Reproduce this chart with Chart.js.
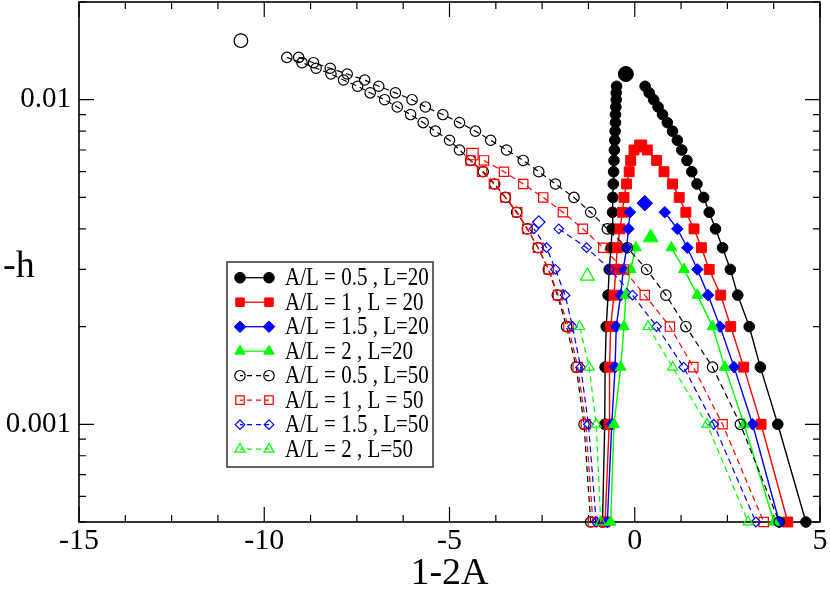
<!DOCTYPE html>
<html>
<head>
<meta charset="utf-8">
<title>-h vs 1-2A</title>
<script src="https://cdn.jsdelivr.net/npm/chart.js@4.4.1/dist/chart.umd.min.js"></script>
<style>
    html, body { margin: 0; padding: 0; background: #fff; }
    #wrap { width: 830px; height: 589px; }
</style>
</head>
<body>
<div id="wrap"><canvas id="hChart" width="830" height="589"></canvas></div>
<script>
// ---- axis ticks ----
const xMajorTicks = [-15, -10, -5, 0, 5];
const xMinorStep = 1.25;
const yLabelTicks = [0.001, 0.01];

// ---- A/L = 0.5 , L=20 ----
const blk20LeftH = [0.0005, 0.001, 0.0015, 0.002, 0.0025, 0.003, 0.0035, 0.004, 0.0045, 0.005, 0.0055,
    0.006, 0.0065, 0.007, 0.0075, 0.008, 0.0085, 0.009, 0.0095, 0.01, 0.0105, 0.011];
const blk20LeftX = [-0.87, -0.81, -0.80, -0.77, -0.72, -0.69, -0.64, -0.61, -0.60, -0.59, -0.58,
    -0.57, -0.56, -0.55, -0.54, -0.53, -0.52, -0.52, -0.51, -0.50, -0.50, -0.49];
const blk20RightH = [0.011, 0.0105, 0.01, 0.0095, 0.009, 0.0085, 0.008, 0.0075, 0.007, 0.0065, 0.006,
    0.0055, 0.005, 0.0045, 0.004, 0.0035, 0.003, 0.0025, 0.002, 0.0015, 0.001, 0.0005];
const blk20RightX = [0.28, 0.39, 0.51, 0.63, 0.75, 0.88, 1.02, 1.15, 1.27, 1.41, 1.54,
    1.68, 1.86, 2.01, 2.18, 2.37, 2.58, 2.78, 3.09, 3.39, 3.86, 4.62];
const blk20Peak = [-0.24, 0.012];

// ---- A/L = 1 , L = 20 ----
const red20LeftH = [0.0005, 0.001, 0.0015, 0.002, 0.0025, 0.003, 0.0035, 0.004, 0.0045, 0.005, 0.0055, 0.006, 0.0065, 0.007];
const red20LeftX = [-0.80, -0.69, -0.68, -0.65, -0.56, -0.51, -0.47, -0.40, -0.33, -0.29, -0.22, -0.15, -0.11, -0.02];
const red20RightH = [0.007, 0.0065, 0.006, 0.0055, 0.005, 0.0045, 0.004, 0.0035, 0.003, 0.0025, 0.002, 0.0015, 0.001, 0.0005];
const red20RightX = [0.34, 0.59, 0.79, 1.02, 1.20, 1.38, 1.60, 1.80, 2.01, 2.32, 2.59, 2.94, 3.41, 4.13];
const red20Peak = [0.16, 0.0072];

// ---- A/L = 1.5 , L=20 ----
const blu20LeftH = [0.0005, 0.001, 0.0015, 0.002, 0.0025, 0.003, 0.0035, 0.004, 0.0045];
const blu20LeftX = [-0.74, -0.62, -0.53, -0.50, -0.38, -0.31, -0.22, -0.17, -0.13];
const blu20RightH = [0.0045, 0.004, 0.0035, 0.003, 0.0025, 0.002, 0.0015, 0.001, 0.0005];
const blu20RightX = [0.81, 1.15, 1.42, 1.69, 1.98, 2.30, 2.68, 3.18, 3.90];
const blu20Peak = [0.27, 0.0048];

// ---- A/L = 2 , L=20 ----
const grn20LeftH = [0.0005, 0.001, 0.0015, 0.002, 0.0025, 0.003, 0.0035];
const grn20LeftX = [-0.65, -0.56, -0.38, -0.29, -0.24, -0.11, 0.03];
const grn20RightH = [0.0035, 0.003, 0.0025, 0.002, 0.0015, 0.001, 0.0005];
const grn20RightX = [0.99, 1.33, 1.69, 2.10, 2.43, 2.95, 3.76];
const grn20Peak = [0.43, 0.00376];

// ---- A/L = 0.5 , L=50 ----
const blk50LeftH = [0.0005, 0.001, 0.0015, 0.002, 0.0025, 0.003, 0.0035, 0.004, 0.0045, 0.005, 0.0055, 0.006, 0.0065, 0.007,
    0.0075, 0.008, 0.0085, 0.009, 0.0095, 0.01, 0.0105, 0.011, 0.0115, 0.012, 0.0125, 0.013, 0.0135];
const blk50LeftX = [-1.19, -1.37, -1.58, -1.84, -2.09, -2.33, -2.61, -2.90, -3.19, -3.49, -3.78, -4.09, -4.43, -4.73,
    -5.00, -5.38, -5.71, -6.05, -6.41, -6.75, -7.14, -7.48, -7.86, -8.20, -8.60, -8.98, -9.39];
const blk50RightH = [0.0135, 0.013, 0.0125, 0.012, 0.0115, 0.011, 0.0105, 0.01, 0.0095, 0.009, 0.0085, 0.008, 0.0075, 0.007,
    0.0065, 0.006, 0.0055, 0.005, 0.0045, 0.004, 0.0035, 0.003, 0.0025, 0.002, 0.0015, 0.001, 0.0005];
const blk50RightX = [-9.07, -8.67, -8.22, -7.76, -7.29, -6.91, -6.46, -6.01, -5.65, -5.18, -4.73, -4.30, -3.89, -3.46,
    -3.01, -2.59, -2.14, -1.64, -1.19, -0.74, -0.20, 0.32, 0.84, 1.38, 2.10, 2.85, 3.90];
const blk50Peak = [-10.63, 0.0152];

// ---- A/L = 1 , L = 50 ----
const red50LeftH = [0.0005, 0.001, 0.0015, 0.002, 0.0025, 0.003, 0.0035, 0.004, 0.0045, 0.005, 0.0055, 0.006, 0.0065];
const red50LeftX = [-1.13, -1.32, -1.54, -1.79, -2.07, -2.32, -2.61, -2.90, -3.17, -3.49, -3.80, -4.12, -4.43];
const red50RightH = [0.0065, 0.006, 0.0055, 0.005, 0.0045, 0.004, 0.0035, 0.003, 0.0025, 0.002, 0.0015, 0.001, 0.0005];
const red50RightX = [-4.07, -3.53, -3.01, -2.47, -1.94, -1.40, -0.85, -0.30, 0.27, 0.95, 1.58, 2.37, 3.48];
const red50Peak = [-4.38, 0.0068];

// ---- A/L = 1.5 , L=50 ----
const blu50LeftH = [0.0005, 0.001, 0.0015, 0.002, 0.0025, 0.003, 0.0035, 0.004];
const blu50LeftX = [-1.04, -1.25, -1.46, -1.68, -1.88, -2.14, -2.38, -2.72];
const blu50RightH = [0.004, 0.0035, 0.003, 0.0025, 0.002, 0.0015, 0.001, 0.0005];
const blu50RightX = [-2.05, -1.30, -0.67, -0.06, 0.59, 1.32, 2.13, 3.27];
const blu50Peak = [-2.59, 0.0042];

// ---- A/L = 2 , L=50 ----
const grn50LeftH = [0.0005, 0.001, 0.0015, 0.002];
const grn50LeftX = [-0.92, -1.04, -1.23, -1.49];
const grn50RightH = [0.002, 0.0015, 0.001, 0.0005];
const grn50RightX = [0.36, 1.02, 1.95, 3.06];
const grn50Peak = [-1.28, 0.00286];

const legendLabels = [
    'A/L = 0.5 , L=20', 'A/L = 1 , L = 20', 'A/L = 1.5 , L=20', 'A/L = 2 , L=20',
    'A/L = 0.5 , L=50', 'A/L = 1 , L = 50', 'A/L = 1.5 , L=50', 'A/L = 2 , L=50'
];

const seriesData = [
    [blk20LeftX, blk20LeftH, blk20RightX, blk20RightH, blk20Peak],
    [red20LeftX, red20LeftH, red20RightX, red20RightH, red20Peak],
    [blu20LeftX, blu20LeftH, blu20RightX, blu20RightH, blu20Peak],
    [grn20LeftX, grn20LeftH, grn20RightX, grn20RightH, grn20Peak],
    [blk50LeftX, blk50LeftH, blk50RightX, blk50RightH, blk50Peak],
    [red50LeftX, red50LeftH, red50RightX, red50RightH, red50Peak],
    [blu50LeftX, blu50LeftH, blu50RightX, blu50RightH, blu50Peak],
    [grn50LeftX, grn50LeftH, grn50RightX, grn50RightH, grn50Peak]
];

// look of each series (same order as legendLabels)
const dash50 = [6, 4];
const seriesStyle = [
    { color: '#000000', shape: 'circle',   r: 5.3, pr: 7.5, filled: true,  dash: [] },
    { color: '#ff0000', shape: 'rect',     r: 7,   pr: 8.5, filled: true,  dash: [] },
    { color: '#0000ff', shape: 'rectRot',  r: 5.8, pr: 7.8, filled: true,  dash: [] },
    { color: '#00ff00', shape: 'triangle', r: 6.3, pr: 8.5, filled: true,  dash: [] },
    { color: '#000000', shape: 'circle',   r: 5.2, pr: 6.8, filled: false, dash: dash50 },
    { color: '#ff0000', shape: 'rect',     r: 6.6, pr: 8,   filled: false, dash: dash50 },
    { color: '#0000ff', shape: 'rectRot',  r: 4.8, pr: 6.2, filled: false, dash: dash50 },
    { color: '#00ff00', shape: 'triangle', r: 5.8, pr: 8,   filled: false, dash: dash50 }
];

function toPoints(xs, hs) {
    return xs.map(function (x, i) { return { x: x, y: hs[i] }; });
}

function makeSet(points, st, showLine, radius) {
    return {
        data: points,
        showLine: showLine,
        borderColor: st.color,
        backgroundColor: st.color,
        borderWidth: st.filled ? 1.4 : 1.2,
        borderDash: st.dash,
        pointStyle: st.shape,
        pointRadius: radius,
        pointBorderWidth: st.filled ? 1 : 1.2,
        pointBorderColor: st.color,
        pointBackgroundColor: st.filled ? st.color : 'rgba(0,0,0,0)',
        tension: 0,
        clip: false
    };
}

const datasets = [];
for (let i = seriesData.length - 1; i >= 0; i--) {
    const d = seriesData[i];
    const st = seriesStyle[i];
    datasets.push(makeSet(toPoints(d[0], d[1]), st, true, st.r));
    datasets.push(makeSet(toPoints(d[2], d[3]), st, true, st.r));
    datasets.push(makeSet([{ x: d[4][0], y: d[4][1] }], st, false, st.pr));
}

const xTicks = [];
for (let v = xMajorTicks[0]; v <= xMajorTicks[xMajorTicks.length - 1] + 1e-9; v += xMinorStep) xTicks.push(v);
const yTicks = [];
for (let e = -4; e <= -2; e++) {
    for (let m = 1; m <= 9; m++) {
        const v = parseFloat((m * Math.pow(10, e)).toPrecision(3));
        if (v >= 0.0005 && v <= 0.02) yTicks.push(v);
    }
}
const isYLabel = function (v) { return yLabelTicks.some(function (t) { return Math.abs(t - v) < t * 1e-6; }); };

function fallbackPoint(ctx, o, x, y) {
    const r = o.radius;
    ctx.beginPath();
    if (o.pointStyle === 'circle') ctx.arc(x, y, r, 0, Math.PI * 2);
    else if (o.pointStyle === 'rect') ctx.rect(x - r * Math.SQRT1_2, y - r * Math.SQRT1_2, r * Math.SQRT2, r * Math.SQRT2);
    else if (o.pointStyle === 'rectRot') { ctx.moveTo(x - r, y); ctx.lineTo(x, y - r); ctx.lineTo(x + r, y); ctx.lineTo(x, y + r); ctx.closePath(); }
    else { ctx.moveTo(x, y - r); ctx.lineTo(x + r * 0.866, y + r / 2); ctx.lineTo(x - r * 0.866, y + r / 2); ctx.closePath(); }
    ctx.fill();
    ctx.stroke();
}
const drawPoint = (Chart.helpers && Chart.helpers.drawPoint) ? Chart.helpers.drawPoint : fallbackPoint;

// frame with inward ticks on all four sides
const frameTicks = {
    id: 'frameTicks',
    beforeDatasetsDraw(chart) {
        const { ctx, chartArea: a, scales } = chart;
        ctx.save();
        ctx.strokeStyle = '#000';
        ctx.lineWidth = 1.2;
        ctx.beginPath();
        scales.x.ticks.forEach(function (t) {
            const px = scales.x.getPixelForValue(t.value);
            const len = xMajorTicks.indexOf(t.value) >= 0 ? 15 : 7;
            ctx.moveTo(px, a.bottom); ctx.lineTo(px, a.bottom - len);
            ctx.moveTo(px, a.top); ctx.lineTo(px, a.top + len);
        });
        scales.y.ticks.forEach(function (t) {
            const py = scales.y.getPixelForValue(t.value);
            const len = isYLabel(t.value) ? 15 : 7;
            ctx.moveTo(a.left, py); ctx.lineTo(a.left + len, py);
            ctx.moveTo(a.right, py); ctx.lineTo(a.right - len, py);
        });
        ctx.stroke();
        ctx.lineWidth = 1.6;
        ctx.strokeRect(a.left, a.top, a.right - a.left, a.bottom - a.top);
        ctx.restore();
    }
};

// boxed legend inside the plot
const boxLegend = {
    id: 'boxLegend',
    afterDatasetsDraw(chart) {
        const ctx = chart.ctx;
        const a = chart.chartArea;
        const bx = a.left + 148, by = a.top + 260, bw = 206, bh = 205;
        ctx.save();
        ctx.fillStyle = '#fff';
        ctx.fillRect(bx, by, bw, bh);
        ctx.strokeStyle = '#222';
        ctx.lineWidth = 1.4;
        ctx.strokeRect(bx, by, bw, bh);
        legendLabels.forEach(function (label, i) {
            const st = seriesStyle[i];
            const y = by + 15.7 + i * 24.5;
            const x1 = bx + 13, x2 = bx + 42;
            ctx.strokeStyle = st.color;
            ctx.lineWidth = 1.3;
            ctx.setLineDash(st.dash.length ? [5, 4] : []);
            ctx.lineDashOffset = st.dash.length ? -7 : 0;
            ctx.beginPath();
            ctx.moveTo(x1, y); ctx.lineTo(x2, y);
            ctx.stroke();
            ctx.setLineDash([]);
            ctx.fillStyle = st.filled ? st.color : 'rgba(0,0,0,0)';
            ctx.lineWidth = st.filled ? 1 : 1.2;
            [x1, x2].forEach(function (px) {
                drawPoint(ctx, { pointStyle: st.shape, radius: Math.min(st.r, 6), rotation: 0, borderWidth: ctx.lineWidth }, px, y);
            });
            // glyphs in the original are drawn a little taller than wide
            ctx.fillStyle = '#000';
            ctx.font = '21px "Liberation Serif", "Times New Roman", serif';
            ctx.textBaseline = 'middle';
            ctx.textAlign = 'left';
            ctx.save();
            ctx.translate(bx + 58, y + 1);
            ctx.scale(1, 1.15);
            ctx.fillText(label, 0, 0);
            ctx.restore();
        });
        ctx.restore();
    }
};

// horizontal y axis title
const yTitle = {
    id: 'yTitle',
    afterDraw(chart) {
        const ctx = chart.ctx;
        ctx.save();
        ctx.fillStyle = '#000';
        ctx.font = '38px "Liberation Serif", "Times New Roman", serif';
        ctx.textAlign = 'left';
        ctx.textBaseline = 'alphabetic';
        ctx.fillText('-h', 3, 277);
        ctx.restore();
    }
};

const serif = '"Liberation Serif", "Times New Roman", serif';

new Chart(document.getElementById('hChart').getContext('2d'), {
    type: 'line',
    data: { datasets: datasets },
    options: {
        responsive: false,
        animation: false,
        layout: { autoPadding: false, padding: { top: 2, right: 10, left: 0, bottom: 0 } },
        plugins: {
            legend: { display: false },
            tooltip: { enabled: false }
        },
        scales: {
            x: {
                type: 'linear',
                min: -15,
                max: 5,
                grid: { display: false, drawTicks: false },
                border: { display: false },
                afterBuildTicks: function (scale) {
                    scale.ticks = xTicks.map(function (v) { return { value: v }; });
                },
                afterFit: function (scale) {
                    scale.height = 67;
                    scale.paddingLeft = 0;
                    scale.paddingRight = 0;
                },
                ticks: {
                    autoSkip: false,
                    maxRotation: 0,
                    padding: 1,
                    color: '#000',
                    font: { family: serif, size: 30, lineHeight: 1.2 },
                    callback: function (v) { return xMajorTicks.indexOf(v) >= 0 ? String(v) : ''; }
                },
                title: {
                    display: true,
                    text: '1-2A',
                    color: '#000',
                    padding: 0,
                    font: { family: serif, size: 38, lineHeight: 0.8 }
                }
            },
            y: {
                type: 'logarithmic',
                min: 0.0005,
                max: 0.02,
                grid: { display: false, drawTicks: false },
                border: { display: false },
                afterBuildTicks: function (scale) {
                    scale.ticks = yTicks.map(function (v) { return { value: v }; });
                },
                afterFit: function (scale) {
                    scale.width = 79;
                    scale.paddingTop = 0;
                    scale.paddingBottom = 0;
                },
                ticks: {
                    autoSkip: false,
                    padding: 8,
                    color: '#000',
                    font: { family: serif, size: 29 },
                    callback: function (v) { return isYLabel(v) ? String(v) : ''; }
                }
            }
        }
    },
    plugins: [frameTicks, boxLegend, yTitle]
});
</script>
</body>
</html>
